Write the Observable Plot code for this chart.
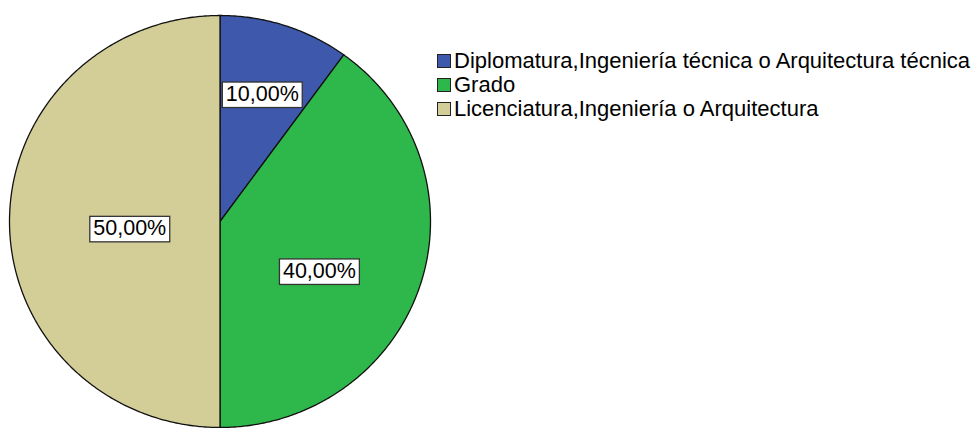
<!DOCTYPE html>
<html><head><meta charset="utf-8">
<script src="https://cdn.jsdelivr.net/npm/d3@7"></script>
<script src="https://cdn.jsdelivr.net/npm/@observablehq/plot@0.6"></script>
<style>
body{margin:0;background:#fff;font-family:"Liberation Sans",Arial,sans-serif}
#wrap{position:relative;width:976px;height:428px}
#legend{position:absolute;left:437px;top:49px;font-size:22px;color:#000;line-height:1}
.row{display:flex;align-items:center;height:24px;white-space:nowrap}
.sw{width:14px;height:14px;border:1px solid #222;margin-right:3px;box-sizing:border-box;flex:none}
</style></head><body><div id="wrap"><div id="legend"></div></div>
<script>
const categories = ["Diplomatura,Ingeniería técnica o Arquitectura técnica", "Grado", "Licenciatura,Ingeniería o Arquitectura"];
const percentages = [10, 40, 50];
const labels = ["10,00%", "40,00%", "50,00%"];
const colors = ["#3e58ac", "#2eb84b", "#d3ce97"];

// layout: label distance from centre (fraction of radius) and angular nudge (degrees) per slice
const labelRadius = [0.65, 0.53, 0.43];
const labelNudge = [0, 9, -4.5];

const total = d3.sum(percentages);
const slices = [];
const labelRows = [];
let acc = 0;
percentages.forEach((p, i) => {
  const a0 = acc / total * 2 * Math.PI;
  acc += p;
  const a1 = acc / total * 2 * Math.PI;
  const pts = [{cat: categories[i], x: 0, y: 0}];
  const n = Math.max(2, Math.ceil((a1 - a0) / (Math.PI / 360)));
  for (let k = 0; k <= n; k++) {
    const a = a0 + (a1 - a0) * k / n;
    pts.push({cat: categories[i], x: Math.sin(a), y: Math.cos(a)});
  }
  pts.push({cat: categories[i], x: 0, y: 0});
  slices.push(...pts);
  const am = (a0 + a1) / 2 + labelNudge[i] * Math.PI / 180;
  labelRows.push({label: labels[i], x: labelRadius[i] * Math.sin(am), y: labelRadius[i] * Math.cos(am)});
});

const chart = Plot.plot({
  width: 976,
  height: 428,
  x: {domain: [-1, 1], range: [9, 430], axis: null},
  y: {domain: [-1, 1], range: [427, 15], axis: null},
  color: {domain: categories, range: colors},
  style: {fontFamily: '"Liberation Sans", Arial, sans-serif', background: "#fff"},
  marks: [
    Plot.line(slices, {x: "x", y: "y", z: "cat", fill: "cat", stroke: "#111", strokeWidth: 1.3, strokeLinejoin: "round", curve: "linear"}),
    Plot.text(labelRows, {x: "x", y: "y", text: "label", fontSize: 21.5, fill: "#000", className: "pielabel"})
  ]
});
document.getElementById("wrap").prepend(chart);

// white boxes behind value labels, sized from the rendered text
d3.select(chart).selectAll("text").filter(function() { return this.closest(".pielabel"); }).each(function() {
  const b = this.getBBox();
  const t = this.getAttribute("transform");
  const r = document.createElementNS("http://www.w3.org/2000/svg", "rect");
  r.setAttribute("x", b.x - 3.5); r.setAttribute("y", b.y);
  r.setAttribute("width", b.width + 7); r.setAttribute("height", b.height + 1.5);
  r.setAttribute("fill", "#fff"); r.setAttribute("stroke", "#333"); r.setAttribute("stroke-width", 1.3);
  if (t) r.setAttribute("transform", t);
  this.parentNode.insertBefore(r, this);
});

const legend = d3.select("#legend");
categories.forEach((c, i) => {
  const row = legend.append("div").attr("class", "row");
  row.append("div").attr("class", "sw").style("background", colors[i]);
  row.append("span").text(c);
});
</script></body></html>
